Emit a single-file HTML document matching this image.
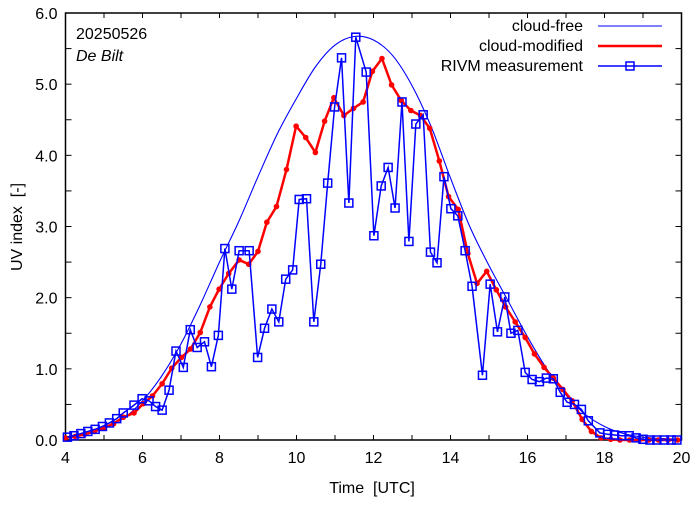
<!DOCTYPE html>
<html><head><meta charset="utf-8"><style>
body{margin:0;background:#fff;}
svg text{font-family:"Liberation Sans",sans-serif;font-size:16px;fill:#000;white-space:pre;}
</style></head><body>
<svg id="chart" width="694" height="501" xmlns="http://www.w3.org/2000/svg">
<g id="axes"></g>
<g id="series"></g>
<text x="76" y="39">20250526</text>
<text x="76" y="61" font-style="italic">De Bilt</text>
<text x="372" y="493" text-anchor="middle">Time&#160;&#160;[UTC]</text>
<text transform="translate(22,227) rotate(-90)" text-anchor="middle">UV index&#160;&#160;[-]</text>
<g>
<g><text x="583" y="31" text-anchor="end">cloud-free</text><line x1="598" y1="26" x2="662" y2="26" stroke="#0000ff" stroke-width="1"/></g>
<g><text x="583" y="51" text-anchor="end">cloud-modified</text><line x1="598" y1="46" x2="662" y2="46" stroke="#ff0000" stroke-width="2.5"/></g>
<g><text x="583" y="71" text-anchor="end">RIVM measurement</text><line x1="598" y1="66" x2="662" y2="66" stroke="#0000ff" stroke-width="1.5"/><rect x="626" y="62" width="8" height="8" fill="none" stroke="#0000ff" stroke-width="1.5"/></g>
</g>
</svg>
<script>
const clearT=[4,4.5,5,5.5,6,6.5,7,7.5,8,8.5,9,9.5,10,10.5,11,11.5,12,12.5,13,13.5,14,14.5,15,15.5,16,16.5,17,17.5,18,18.5,19,19.5,20];
const clearV=[0.04,0.09,0.17,0.3,0.55,0.9,1.35,1.9,2.5,3.07,3.7,4.3,4.8,5.25,5.55,5.67,5.62,5.4,4.98,4.4,3.68,3.0,2.45,1.95,1.45,1.0,0.63,0.36,0.19,0.09,0.04,0.02,0.01];
const redT=[4,4.25,4.5,4.75,5,5.25,5.5,5.78,6.02,6.26,6.51,6.76,7.01,7.25,7.5,7.75,7.99,8.24,8.51,8.76,9,9.23,9.48,9.74,9.99,10.24,10.49,10.73,10.97,11.23,11.48,11.73,11.97,12.22,12.47,12.72,12.97,13.22,13.46,13.71,13.95,14.2,14.45,14.69,14.94,15.19,15.43,15.68,15.94,16.18,16.43,16.67,16.92,17.16,17.42,17.66,17.91,18.16,18.4,18.65,18.9,19.15,19.4,19.65,19.9];
const redV=[0.03,0.05,0.08,0.12,0.17,0.23,0.32,0.38,0.51,0.62,0.79,1.01,1.16,1.28,1.51,1.87,2.12,2.34,2.53,2.47,2.65,3.06,3.28,3.8,4.41,4.25,4.04,4.48,4.81,4.56,4.66,4.75,5.18,5.36,4.99,4.77,4.63,4.56,4.38,3.92,3.42,3.24,2.62,2.2,2.37,2.11,1.87,1.66,1.44,1.21,1.02,0.87,0.71,0.55,0.29,0.12,0.03,0.01,0,0,0,0,0,0,0];
const measT=[4.05,4.22,4.4,4.58,4.77,4.96,5.14,5.33,5.5,5.78,5.99,6.17,6.34,6.51,6.69,6.87,7.06,7.24,7.42,7.61,7.79,7.97,8.14,8.32,8.51,8.77,8.99,9.17,9.36,9.54,9.72,9.9,10.07,10.26,10.45,10.63,10.81,10.99,11.17,11.36,11.54,11.81,12.01,12.2,12.38,12.56,12.74,12.92,13.1,13.29,13.48,13.65,13.83,14.01,14.19,14.38,14.56,14.83,15.03,15.22,15.41,15.57,15.75,15.94,16.12,16.31,16.49,16.67,16.85,17.03,17.22,17.4,17.58,17.88,18.08,18.26,18.45,18.64,18.82,19,19.18,19.36,19.55,19.73,19.88];
const measV=[0.04,0.06,0.09,0.12,0.15,0.19,0.24,0.3,0.38,0.49,0.58,0.55,0.47,0.42,0.7,1.25,1.02,1.55,1.3,1.38,1.03,1.47,2.69,2.12,2.66,2.66,1.16,1.57,1.84,1.66,2.26,2.39,3.38,3.39,1.66,2.47,3.61,4.68,5.37,3.33,5.66,5.17,2.87,3.57,3.83,3.26,4.75,2.79,4.44,4.57,2.64,2.49,3.7,3.25,3.15,2.66,2.16,0.91,2.19,1.52,2.01,1.5,1.54,0.95,0.85,0.82,0.87,0.86,0.67,0.53,0.5,0.43,0.27,0.1,0.08,0.07,0.06,0.06,0.03,0.01,0,0,0,0,0];
const xTicks=[4,6,8,10,12,14,16,18,20];
const yTicks=[0,1,2,3,4,5,6];

const L=65.5,R=681.5,T=13,B=440;
const X=t=>L+(t-4)/16*(R-L);
const Y=v=>B-v/6*(B-T);
const NS='http://www.w3.org/2000/svg';
function mk(tag,attrs,parent){const e=document.createElementNS(NS,tag);for(const k in attrs)e.setAttribute(k,attrs[k]);parent.appendChild(e);return e;}
const axes=document.getElementById('axes'),series=document.getElementById('series');
for(let h=4;h<=20;h++){
  const x=X(h);
  const t1=mk('line',{x1:x,y1:B,x2:x,y2:B-5,stroke:'#000','stroke-width':1},axes);
  
  
  mk('line',{x1:x,y1:T,x2:x,y2:T+5,stroke:'#000','stroke-width':1},axes);
}
xTicks.forEach(h=>{
  const tx=mk('text',{x:X(h),y:B+23,'text-anchor':'middle'},axes);tx.textContent=h;
  
  
});
for(let i=0;i<=12;i++){
  const v=i*0.5,y=Y(v);
  const tk=mk('line',{x1:L,y1:y,x2:L+6,y2:y,stroke:'#000','stroke-width':1},axes);
  
  
  mk('line',{x1:R,y1:y,x2:R-6,y2:y,stroke:'#000','stroke-width':1},axes);
}
yTicks.forEach(v=>{
  const ty=mk('text',{x:L-8,y:Y(v)+6,'text-anchor':'end'},axes);ty.textContent=v.toFixed(1);
  
  
});
const fr=mk('rect',{x:L,y:T,width:R-L,height:B-T,fill:'none',stroke:'#000','stroke-width':1.5},axes);



const P=clearT.map((t,i)=>[X(t),Y(clearV[i])]);
let d='M'+P[0][0]+','+P[0][1];
for(let i=0;i<P.length-1;i++){
  const p0=P[Math.max(0,i-1)],p1=P[i],p2=P[i+1],p3=P[Math.min(P.length-1,i+2)];
  d+=' C'+(p1[0]+(p2[0]-p0[0])/6)+','+(p1[1]+(p2[1]-p0[1])/6)+' '+(p2[0]-(p3[0]-p1[0])/6)+','+(p2[1]-(p3[1]-p1[1])/6)+' '+p2[0]+','+p2[1];
}
const cf=mk('path',{d:d,fill:'none',stroke:'#0000ff','stroke-width':1.1},series);



const rl=mk('polyline',{points:redT.map((t,i)=>X(t)+','+Y(redV[i])).join(' '),fill:'none',stroke:'#ff0000','stroke-width':2.5,'stroke-linejoin':'round'},series);


redT.forEach((t,i)=>{
  const c=mk('circle',{cx:X(t),cy:Y(redV[i]),r:2.8,fill:'#ff0000'},series);
  
  
});
const bl=mk('polyline',{points:measT.map((t,i)=>X(t)+','+Y(measV[i])).join(' '),fill:'none',stroke:'#0000ff','stroke-width':1.5},series);


measT.forEach((t,i)=>{
  const r=mk('rect',{x:X(t)-4,y:Y(measV[i])-4,width:8,height:8,fill:'none',stroke:'#0000ff','stroke-width':1.5},series);
  
  
});
</script>
</body></html>
